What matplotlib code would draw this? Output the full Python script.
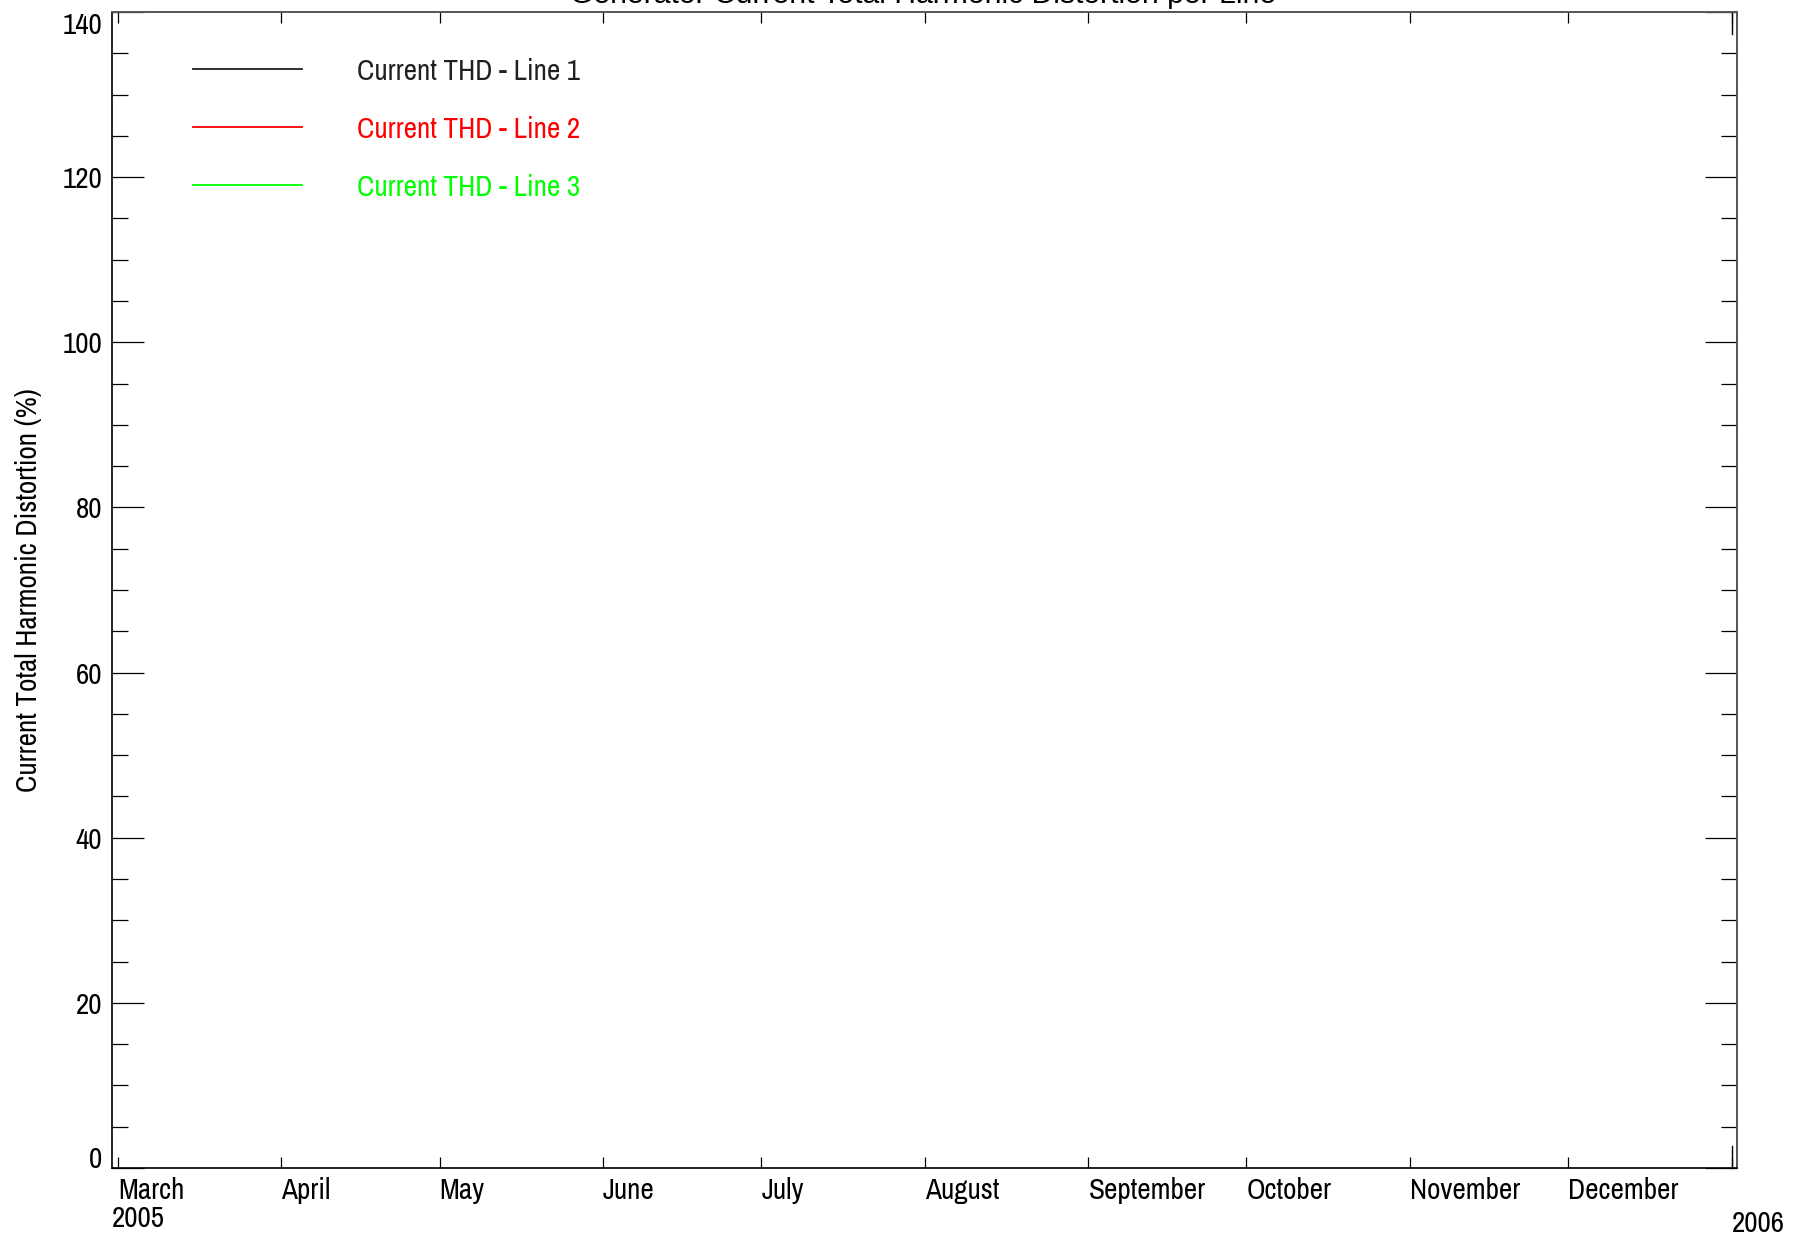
import datetime as dt

from matplotlib import pyplot as plt
from matplotlib import font_manager
import matplotlib.dates as mdates
import numpy as np

# no samples were recorded in this period, so the three series are empty
dates = []
thd_line1 = []
thd_line2 = []
thd_line3 = []

series_names = ['Current THD - Line 1', 'Current THD - Line 2', 'Current THD - Line 3']
series_colors = ['#202020', '#ff0000', '#00ff00']

month_starts = [dt.datetime(2005, m, 1) for m in range(3, 13)] + [dt.datetime(2006, 1, 1)]
month_labels = ['March', 'April', 'May', 'June', 'July', 'August',
                'September', 'October', 'November', 'December', '\n2006']
start_year = '2005'

y_ticks = [0, 20, 40, 60, 80, 100, 120, 140]

# look for a condensed sans face, otherwise fall back to Liberation Sans
names = sorted({f.name for f in font_manager.fontManager.ttflist})
narrow_names = [n for n in names if 'Narrow' in n or 'Condensed' in n]
narrow = (narrow_names[:1] or ['Liberation Sans']) + ['DejaVu Sans']
plt.rcParams['font.family'] = narrow

fs = 21

fig = plt.figure(figsize=(18.09, 12.38), dpi=100)
ax = fig.add_axes([0.0619, 0.0565, 0.8983, 0.9338])

for vals, name, color in zip([thd_line1, thd_line2, thd_line3], series_names, series_colors):
    ax.plot(dates, vals, color=color, linewidth=1.2, label=name)

x0 = mdates.date2num(dt.datetime(2005, 3, 1)) - 1.1
x1 = mdates.date2num(dt.datetime(2006, 1, 1)) + 1.0
ax.set_xlim(x0, x1)
ax.set_ylim(0, 140)

ax.set_xticks(mdates.date2num(month_starts))
ax.set_xticklabels(month_labels, fontsize=fs, ha='left', linespacing=1.25)
ax.set_yticks(y_ticks)
ax.set_yticklabels([str(v) for v in y_ticks], fontsize=fs)
ax.set_yticks(np.arange(0, 141, 5), minor=True)

ax.tick_params(axis='x', which='major', direction='in', length=8, width=0.9,
               top=True, bottom=True, pad=6.5)
ax.tick_params(axis='y', which='major', direction='in', length=23, width=0.9,
               left=True, right=True, pad=7)
ax.tick_params(axis='y', which='minor', direction='in', length=11.5, width=0.9,
               left=True, right=True)

# keep the end labels inside the axis span
ylabels = ax.get_yticklabels()
ylabels[0].set_va('baseline')
ylabels[-1].set_va('top')

# first year sits at the left edge of the axis, under the month row
ax.annotate(start_year, xy=(0, 0), xycoords='axes fraction', xytext=(0, -36.5),
            textcoords='offset points', ha='left', va='center', fontsize=fs)

for side in ['left', 'bottom']:
    ax.spines[side].set_color('black')
    ax.spines[side].set_linewidth(1.2)
for side in ['top', 'right']:
    ax.spines[side].set_color('#555555')
    ax.spines[side].set_linewidth(1.4)

# the year boundary gets a longer tick
ax.plot([x1 - 1.0, x1 - 1.0], [0, 2.7], color='black', linewidth=1, clip_on=False)
ax.plot([x1 - 1.0, x1 - 1.0], [140, 137.3], color='black', linewidth=1, clip_on=False)

ax.set_ylabel('Current Total Harmonic Distortion (%)', fontsize=fs, labelpad=15)

# legend drawn like the original: short line then coloured text
for i, (name, color) in enumerate(zip(series_names, series_colors)):
    yy = 0.9507 - i * 0.0502
    ax.plot([0.0498, 0.1169], [yy, yy], color=color, linewidth=1.3, transform=ax.transAxes)
    ax.text(0.1505, yy - 0.002, name, color=color, fontsize=fs, va='center', ha='left',
            transform=ax.transAxes)

fig.text(0.5105, 0.9975, 'Generator Current Total Harmonic Distortion per Line',
         fontsize=21.7, family=['Liberation Sans', 'DejaVu Sans'], ha='center', va='baseline')

fig.savefig('out.png', dpi=100, facecolor='white')
